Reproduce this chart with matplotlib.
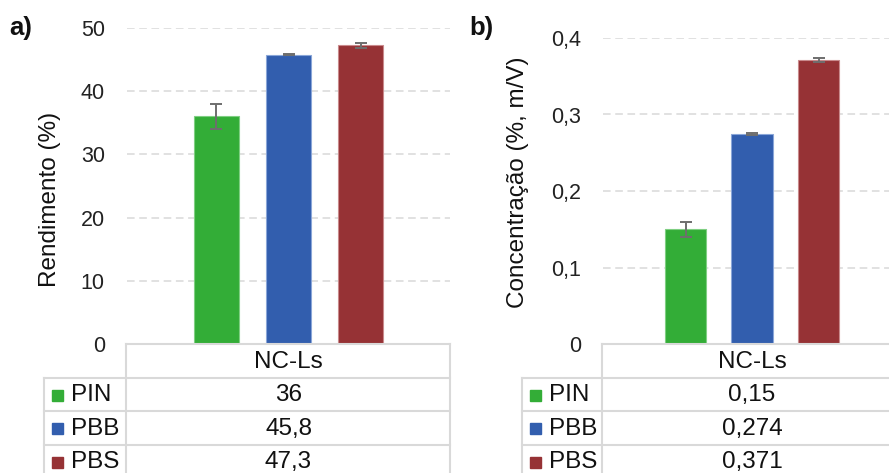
import matplotlib
matplotlib.use("Agg")
import matplotlib.pyplot as plt
from matplotlib.lines import Line2D
from matplotlib.patches import Rectangle

plt.rcParams['font.family'] = ['Liberation Sans', 'DejaVu Sans']

# ---- data ----
series = ["PIN", "PBB", "PBS"]
category = "NC-Ls"
rend_values = [36.0, 45.8, 47.3]
rend_errors = [2.0, 0.15, 0.4]
rend_labels = ["36", "45,8", "47,3"]
rend_ticks = [0, 10, 20, 30, 40, 50]
rend_ticklabels = ["0", "10", "20", "30", "40", "50"]

conc_values = [0.150, 0.274, 0.371]
conc_errors = [0.010, 0.0012, 0.003]
conc_labels = ["0,15", "0,274", "0,371"]
conc_ticks = [0, 0.1, 0.2, 0.3, 0.4]
conc_ticklabels = ["0", "0,1", "0,2", "0,3", "0,4"]

colors = ["#33ad37", "#325eae", "#963235"]
edge_colors = ["#7fcf82", "#8aa6d8", "#c98a8c"]

W, H = 889, 473
fig = plt.figure(figsize=(W / 100, H / 100), dpi=100)
fig.patch.set_facecolor("white")

def fx(px):
    return px / W

def fy(py):
    return 1 - py / H

GRID = "#d9d9d9"
TBL = "#d9d9d9"

def panel(left, right, top, bottom, values, errors, ticks, ticklabels, ymax,
          ylabel, ylab_xy, letter, letter_xy, labels, legend_left, unit_px, width_units):
    ax = fig.add_axes([fx(left), fy(bottom), fx(right - left), (bottom - top) / H])
    xs = [-1, 0, 1]
    half = (right - left) / unit_px / 2
    ax.bar(xs, values, width=width_units, color=colors, edgecolor=edge_colors,
           linewidth=0.8, zorder=3)
    ax.errorbar(xs, values, yerr=errors, fmt="none", ecolor="#6e6e6e",
                elinewidth=1.4, capsize=4, capthick=1.4, zorder=4)
    ax.set_xlim(-half, half)
    ax.set_ylim(0, ymax)
    ax.set_yticks(ticks)
    ax.set_yticklabels(ticklabels, fontsize=15.5, color="#222222")
    ax.tick_params(axis="y", length=0, pad=16)
    ax.set_xticks([])
    for s in ax.spines.values():
        s.set_visible(False)
    for t in ticks[1:]:
        ax.axhline(t, color=GRID, lw=1.1, dashes=(5, 3), zorder=1)
    ax.set_ylabel(ylabel, fontsize=17.5, color="#111111")
    ax.yaxis.set_label_coords((ylab_xy[0] - left) / (right - left),
                              (bottom - ylab_xy[1]) / (bottom - top))
    fig.text(fx(letter_xy[0]), fy(letter_xy[1]), letter, fontsize=18.5,
             fontweight="bold", ha="left", va="center", color="#111111")

    # ---- data table ----
    row_h = 33.5
    rows_y = [bottom + row_h * i for i in range(5)]
    tkw = dict(color=TBL, lw=1.5, transform=fig.transFigure, clip_on=False)
    fig.add_artist(Line2D([fx(left - 1), fx(right)], [fy(rows_y[0])] * 2, **tkw))
    for y in rows_y[1:4]:
        fig.add_artist(Line2D([fx(legend_left), fx(right)], [fy(y)] * 2, **tkw))
    fig.add_artist(Line2D([fx(left - 1)] * 2, [fy(rows_y[0]), fy(H + 5)], **tkw))
    fig.add_artist(Line2D([fx(right)] * 2, [fy(rows_y[0]), fy(H + 5)], **tkw))
    fig.add_artist(Line2D([fx(legend_left)] * 2, [fy(rows_y[1]), fy(H + 5)], **tkw))
    cx = (left + right) / 2
    fig.text(fx(cx), fy(rows_y[0] + row_h / 2 + 1), category, fontsize=17.5,
             ha="center", va="center", color="#111111")
    for i, (name, lab) in enumerate(zip(series, labels)):
        yc = rows_y[i + 1] + row_h / 2 + 1
        fig.text(fx(cx), fy(yc), lab, fontsize=17.5, ha="center", va="center",
                 color="#111111")
        fig.add_artist(Rectangle((fx(legend_left + 8), fy(yc + 5.5)), fx(11), 11 / H,
                                 transform=fig.transFigure, color=colors[i],
                                 clip_on=False))
        fig.text(fx(legend_left + 27), fy(yc), name, fontsize=17.5, ha="left",
                 va="center", color="#111111")
    return ax

panel(127, 450, 28, 344, rend_values, rend_errors, rend_ticks, rend_ticklabels, 50,
      "Rendimento (%)", (61, 199), "a)", (9, 28), rend_labels, 44, 72.3, 0.625)
panel(603, 901, 38, 344, conc_values, conc_errors, conc_ticks, conc_ticklabels, 0.4,
      "Concentração (%, m/V)", (529, 182), "b)", (469, 28), conc_labels, 522, 66.5, 0.63)

fig.savefig("out.png", dpi=100, facecolor="white")
